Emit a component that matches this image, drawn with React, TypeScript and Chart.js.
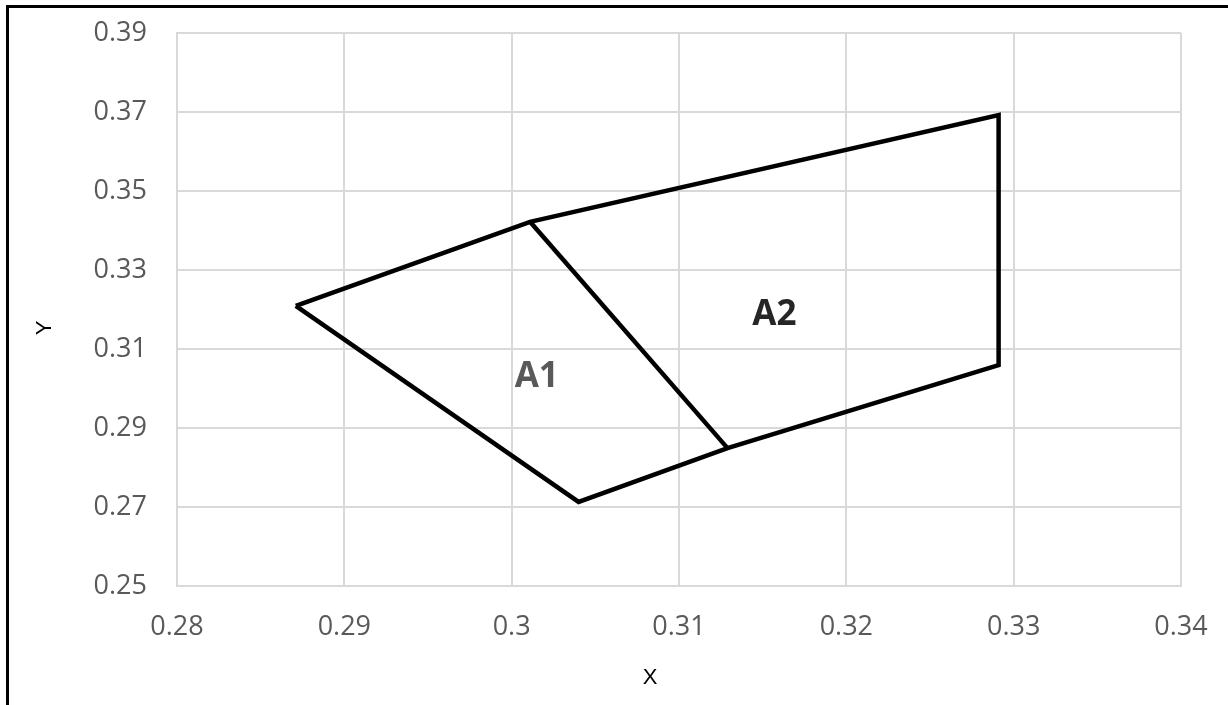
import React, { useEffect, useRef } from "react";
import { Chart, registerables } from "chart.js";

Chart.register(...registerables);

// Outline of the region (closed polygon)
const outlineX = [0.2871, 0.3011, 0.3291, 0.3291, 0.3129, 0.304, 0.2871];
const outlineY = [0.3209, 0.3422, 0.3692, 0.3059, 0.2849, 0.2713, 0.3209];
// Dividing line between A1 and A2
const dividerX = [0.3011, 0.3129];
const dividerY = [0.3422, 0.2849];
// Region labels
const regionNames = ["A1", "A2"];
const regionX = [0.3015, 0.3157];
const regionY = [0.3029, 0.3187];
const regionColors = ["#595959", "#262626"];
// Axis ticks
const xTicks = [0.28, 0.29, 0.3, 0.31, 0.32, 0.33, 0.34];
const xTickLabels = ["0.28", "0.29", "0.3", "0.31", "0.32", "0.33", "0.34"];
const yTicks = [0.25, 0.27, 0.29, 0.31, 0.33, 0.35, 0.37, 0.39];
const yTickLabels = ["0.25", "0.27", "0.29", "0.31", "0.33", "0.35", "0.37", "0.39"];
const xTitle = "X";
const yTitle = "Y";

const W = 1228;
const H = 705;

export default function App() {
  const ref = useRef<HTMLCanvasElement | null>(null);

  useEffect(() => {
    if (!ref.current) return;
    const pts = (xs: number[], ys: number[]) => xs.map((x, i) => ({ x, y: ys[i] }));

    const overlay = {
      id: "overlay",
      afterDatasetsDraw(chart: any) {
        const { ctx, scales } = chart;
        const xs = scales.x;
        const ys = scales.y;
        ctx.save();
        ctx.textAlign = "center";
        ctx.textBaseline = "middle";
        ctx.font = "bold 35px 'Open Sans'";
        regionNames.forEach((n, i) => {
          ctx.fillStyle = regionColors[i];
          ctx.fillText(n, xs.getPixelForValue(regionX[i]), ys.getPixelForValue(regionY[i]));
        });
        ctx.fillStyle = "#000";
        ctx.font = "22px 'Liberation Sans'";
        ctx.fillText(xTitle, 650, 678);
        ctx.translate(45, 328);
        ctx.rotate(-Math.PI / 2);
        ctx.fillText(yTitle, 0, 0);
        ctx.restore();
      },
    };

    const chart = new Chart(ref.current, {
      type: "scatter",
      data: {
        datasets: [
          {
            data: pts(outlineX, outlineY),
            showLine: true,
            borderColor: "#000",
            borderWidth: 4.5,
            pointRadius: 0,
            borderJoinStyle: "miter",
            fill: false,
          },
          {
            data: pts(dividerX, dividerY),
            showLine: true,
            borderColor: "#000",
            borderWidth: 4.5,
            pointRadius: 0,
            fill: false,
          },
        ],
      },
      options: {
        responsive: false,
        animation: false,
        devicePixelRatio: 1,
        layout: { padding: { left: 0, top: 33, right: 47, bottom: 0 } },
        plugins: {
          legend: { display: false },
          tooltip: { enabled: false },
          title: { display: false },
        },
        scales: {
          x: {
            type: "linear",
            min: 0.28,
            max: 0.34,
            afterBuildTicks: (s: any) => {
              s.ticks = xTicks.map((v) => ({ value: v }));
            },
            afterFit: (s: any) => {
              s.height = 119;
              s.paddingLeft = 0;
              s.paddingRight = 0;
            },
            ticks: {
              color: "#595959",
              font: { family: "'Open Sans'", size: 27 },
              padding: 25,
              maxRotation: 0,
              autoSkip: false,
              callback: (_v: any, i: number) => xTickLabels[i],
            },
            grid: { color: "#d9d9d9", lineWidth: 2, drawTicks: false },
            border: { display: true, color: "#d9d9d9", width: 2 },
          },
          y: {
            type: "linear",
            min: 0.25,
            max: 0.39,
            afterBuildTicks: (s: any) => {
              s.ticks = yTicks.map((v) => ({ value: v }));
            },
            afterFit: (s: any) => {
              s.width = 177;
              s.paddingTop = 0;
              s.paddingBottom = 0;
            },
            ticks: {
              color: "#595959",
              font: { family: "'Open Sans'", size: 27 },
              padding: 30,
              autoSkip: false,
              callback: (_v: any, i: number) => yTickLabels[i],
            },
            grid: { color: "#d9d9d9", lineWidth: 2, drawTicks: false },
            border: { display: true, color: "#d9d9d9", width: 2 },
          },
        },
      },
      plugins: [overlay],
    } as any);

    return () => chart.destroy();
  }, []);

  return (
    <div style={{ position: "fixed", left: 0, top: 0, width: W, height: H, background: "#fff" }}>
      <div
        style={{
          position: "absolute",
          left: 6,
          top: 5,
          width: W - 6,
          height: H - 5,
          borderTop: "3px solid #000",
          borderLeft: "3px solid #000",
          boxSizing: "border-box",
        }}
      />
      <canvas ref={ref} width={W} height={H} style={{ position: "absolute", left: 0, top: 0 }} />
    </div>
  );
}
